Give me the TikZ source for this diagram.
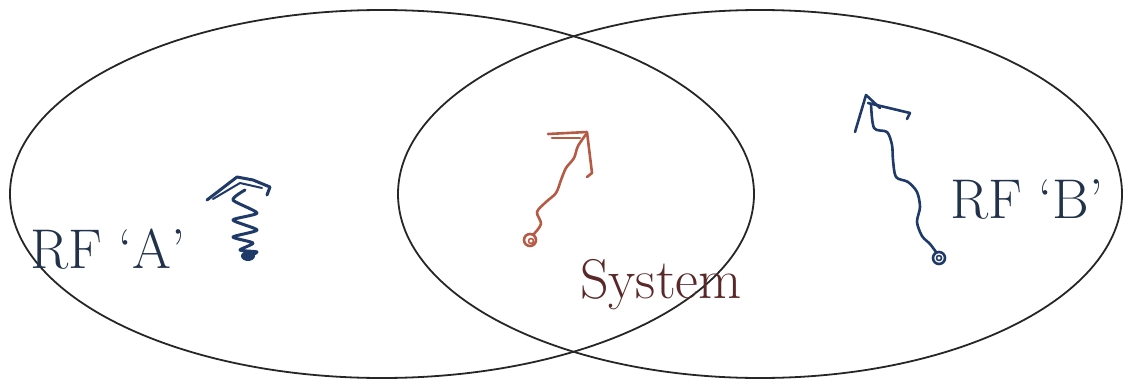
\documentclass[tikz,border=0pt]{standalone}

\definecolor{navy}{HTML}{1F3A68}
\definecolor{rust}{HTML}{B55A45}
\definecolor{textnavy}{HTML}{22324A}
\definecolor{textbrown}{HTML}{5A2828}

\tikzset{
  frame/.style={draw=black!85, line width=1.8pt},
  labeltext/.style={font=\fontsize{56}{60}\selectfont, inner sep=0pt, anchor=base west},
  squiggle/.style={line width=2.6pt, line cap=round, line join=round},
}

\begin{document}
\begin{tikzpicture}[x=1pt,y=-1pt]
\useasboundingbox (0,0) rectangle (1124,380);

% Draw the two reference frames as overlapping ellipses
\draw[frame] (382,194) ellipse [x radius=372pt, y radius=184pt];
\draw[frame] (760,194) ellipse [x radius=362pt, y radius=184pt];

% Label the frames and the system
\node[labeltext, text=textnavy] (rfa) at (30,268) {RF `A'};
\node[labeltext, text=textnavy] (rfb) at (950,218) {RF `B'};
\node[labeltext, text=textbrown] (sys) at (580,298) {System};

% Squiggle in frame A
\draw[squiggle, navy, line width=3pt] plot[smooth, tension=0.4] coordinates
  {(247,257) (257,252) (240,250) (253,243) (233,237) (257,230) (233,220) (257,213) (233,200) (245,190)};
\draw[squiggle, navy, line width=3pt] (207,200) -- (237,177) -- (253,180) -- (270,187) -- (267,195);
\draw[squiggle, navy, line width=2pt] (213,199) -- (240,183) -- (262,188);
\fill[navy] (248,256) ellipse [x radius=7pt, y radius=5pt];

% Squiggle of the system
\draw[squiggle, rust] plot[smooth, tension=0.5] coordinates
  {(533,235) (541,224) (537,212) (546,202) (556,193) (561,180) (566,168) (574,158) (578,146) (587,133)};
\draw[squiggle, rust] (548,134) -- (587,132) -- (592,173) -- (587,177);
\draw[squiggle, rust] (552,138) -- (580,138);
\draw[squiggle, rust] (530,240) circle (6pt);
\draw[squiggle, rust, line width=1.6pt] (531,241) circle (2.5pt);

% Squiggle in frame B
\draw[squiggle, navy] (855,132) -- (866,95) -- (880,108);
\draw[squiggle, navy] (868,103) -- (910,113) -- (907,119);
\draw[squiggle, navy] plot[smooth, tension=0.5] coordinates
  {(871,104) (874,128) (887,132) (892,145) (893,160) (896,177) (908,182) (917,192) (920,207) (917,222) (922,236) (930,244) (936,252)};
\draw[squiggle, navy] (939,258) circle (6pt);
\draw[squiggle, navy, line width=1.6pt] (939,258) circle (2.5pt);
\end{tikzpicture}
\end{document}
